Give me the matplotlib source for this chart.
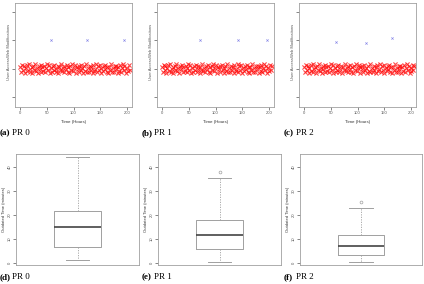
import matplotlib.pyplot as plt
import numpy as np

plt.rcParams['font.family'] = ['Liberation Sans', 'DejaVu Sans']

# event times (hours) for user accesses, one list per PR
access_pr0 = [0.5, 2, 3.5, 6, 7, 9.5, 11, 12.5, 14, 16, 18, 19, 21.5, 23, 25, 26.5, 28, 30, 31,
              33.5, 35, 37, 38.5, 40, 42, 43, 45.5, 47, 49, 50.5, 52, 54, 56, 57, 59.5, 61, 63,
              64, 66.5, 68, 70, 71.5, 73, 75, 76, 78.5, 80, 82, 83, 85.5, 87, 89, 90.5, 92, 94,
              95, 97.5, 99, 101, 102, 104.5, 106, 108, 109.5, 111, 113, 114, 116.5, 118, 120,
              121, 123.5, 125, 127, 128.5, 130, 132, 133, 135.5, 137, 139, 140, 142.5, 144, 146,
              147.5, 149, 151, 152, 154.5, 156, 158, 159, 161.5, 163, 165, 166.5, 168, 170, 171,
              173.5, 175, 177, 178.5, 180, 182, 183, 185.5, 187, 189, 190.5, 192, 194, 195, 197.5,
              199, 201, 203, 205]
access_pr1 = [0, 1.5, 3, 5, 6.5, 8, 10, 11.5, 13, 15, 16.5, 18, 20, 21, 23.5, 25, 27, 28, 30.5,
              32, 34, 35.5, 37, 39, 40, 42.5, 44, 46, 47.5, 49, 51, 52, 54.5, 56, 58, 59, 61.5, 63,
              65, 66.5, 68, 70, 71, 73.5, 75, 77, 78, 80.5, 82, 84, 85.5, 87, 89, 90, 92.5, 94, 96,
              97, 99.5, 101, 103, 104.5, 106, 108, 109, 111.5, 113, 115, 116, 118.5, 120, 122,
              123.5, 125, 127, 128, 130.5, 132, 134, 135, 137.5, 139, 141, 142.5, 144, 146, 147,
              149.5, 151, 153, 154, 156.5, 158, 160, 161.5, 163, 165, 166, 168.5, 170, 172, 173,
              175.5, 177, 179, 180.5, 182, 184, 185, 187.5, 189, 191, 192, 194.5, 196, 198, 199.5,
              201, 203, 205]
access_pr2 = [0.5, 2, 4, 5.5, 7, 9, 10, 12.5, 14, 16, 17, 19.5, 21, 23, 24.5, 26, 28, 29, 31.5,
              33, 35, 36, 38.5, 40, 42, 43.5, 45, 47, 48, 50.5, 52, 54, 55, 57.5, 59, 61, 62.5, 64,
              66, 67, 69.5, 71, 73, 74, 76.5, 78, 80, 81.5, 83, 85, 86, 88.5, 90, 92, 93, 95.5, 97,
              99, 100.5, 102, 104, 105, 107.5, 109, 111, 112, 114.5, 116, 118, 119.5, 121, 123,
              124, 126.5, 128, 130, 131, 133.5, 135, 137, 138.5, 140, 142, 143, 145.5, 147, 149,
              150, 152.5, 154, 156, 157.5, 159, 161, 162, 164.5, 166, 168, 169, 171.5, 173, 175,
              176.5, 178, 180, 181, 183.5, 185, 187, 188, 190.5, 192, 194, 195.5, 197, 199, 200,
              202.5, 204, 206]
# vertical jitter used by the strip chart
jitter = [0.05, -0.12, 0.14, -0.03, 0.09, -0.15, 0.02, 0.12, -0.08, 0.16, -0.1, 0.0, 0.07,
          -0.14, 0.11, -0.05, 0.15, -0.09, 0.03, -0.16, 0.08, -0.02, 0.13, -0.11, 0.06, -0.07,
          0.1, -0.13, 0.01, 0.15, -0.04, 0.12, -0.15, 0.04, -0.1, 0.09, -0.06, 0.14, -0.12, 0.0,
          0.11, -0.16, 0.06, -0.03, 0.16, -0.08, 0.02, -0.13, 0.1, -0.01, 0.13, -0.11, 0.05,
          -0.15, 0.08, -0.06, 0.15, -0.09, 0.03, 0.12, -0.14, 0.07, -0.02, 0.1, -0.12, 0.14,
          -0.05, 0.01, -0.16, 0.09, -0.07, 0.16, -0.1, 0.04, -0.13, 0.11, -0.03, 0.06, -0.15,
          0.13, -0.08, 0.0, 0.15, -0.11, 0.08, -0.04, 0.12, -0.14, 0.02, -0.09, 0.1, -0.01,
          0.14, -0.12, 0.05, -0.16, 0.07, -0.06, 0.16, -0.1, 0.03, -0.13, 0.11, -0.02, 0.09,
          -0.15, 0.06, -0.07, 0.13, -0.11, 0.01, 0.15, -0.04, 0.1, -0.14, 0.04, -0.08, 0.12,
          -0.06, 0.08, -0.13, 0.03, 0.14, -0.1, 0.0, 0.11, -0.15, 0.06, -0.02, 0.13]
# web modification events (time, level)
mods_pr0_t = [58, 125, 195]
mods_pr0_y = [2.0, 2.02, 2.0]
mods_pr1_t = [70, 141, 196]
mods_pr1_y = [2.0, 2.01, 2.02]
mods_pr2_t = [60, 115, 164]
mods_pr2_y = [1.94, 1.91, 2.08]

# boxplot summaries of outdated time (minutes)
box_labels = ["PR 0", "PR 1", "PR 2"]
box_whislo = [1.2, 0.4, 0.4]
box_q1 = [6.7, 5.8, 3.3]
box_med = [15.0, 11.7, 7.1]
box_q3 = [21.7, 17.9, 11.7]
box_whishi = [44.2, 35.4, 22.9]
box_fliers = [[], [38.0], [25.4]]

W, H = 424, 284
fig = plt.figure(figsize=(W / 100, H / 100), dpi=100)
gray = "#a0a0a0"


def px_axes(x0, y0, x1, y1):
    return fig.add_axes([x0 / W, 1 - y1 / H, (x1 - x0) / W, (y1 - y0) / H])


def style(ax):
    for s in ax.spines.values():
        s.set_color(gray)
        s.set_linewidth(0.6)
    ax.tick_params(colors="#555555", length=2, width=0.5, labelsize=3.0, pad=1.2)


def caption(x, y, tag, text):
    fig.text(x / W, 1 - y / H, tag, fontsize=6.5, fontweight="bold",
             family="Liberation Serif", va="center")
    fig.text((x + 12) / W, 1 - y / H, text, fontsize=6.5,
             family="Liberation Serif", va="center")


top = [(15, 3, 132, 107, access_pr0, mods_pr0_t, mods_pr0_y, "(a)", "PR 0"),
       (157, 3, 274, 107, access_pr1, mods_pr1_t, mods_pr1_y, "(b)", "PR 1"),
       (299, 3, 416, 107, access_pr2, mods_pr2_t, mods_pr2_y, "(c)", "PR 2")]
for x0, y0, x1, y1, acc, mt, my, tag, txt in top:
    ax = px_axes(x0, y0, x1, y1)
    n = min(len(acc), len(jitter))
    yv = 1 + np.array(jitter[:n])
    ax.scatter(acc[:n], yv, marker="x", s=9, color="#ff0000", linewidths=0.8, alpha=0.7)
    ax.scatter(mt, my, marker="x", s=2.5, color="#5555dd", linewidths=0.5, alpha=0.7)
    ax.set_xlim(-9.3, 209)
    ax.set_ylim(-0.35, 3.32)
    ax.set_xticks([0, 50, 100, 150, 200])
    ax.set_yticks([0, 1, 2, 3])
    ax.set_yticklabels(["", "User Access", "Web Modifications", ""], rotation=90, va="center",
                       fontsize=2.6)
    ax.set_xlabel("Time (Hours)", fontsize=3.2, labelpad=3, color="#333333")
    style(ax)
    caption(x0 - 15, 133, tag, txt)

bottom = [(16, 154, 139, 265, "(d)"), (158, 154, 281, 265, "(e)"), (300, 154, 422, 265, "(f)")]
for i, (x0, y0, x1, y1, tag) in enumerate(bottom):
    ax = px_axes(x0, y0, x1, y1)
    stats = [dict(whislo=box_whislo[i], q1=box_q1[i], med=box_med[i], q3=box_q3[i],
                  whishi=box_whishi[i], fliers=box_fliers[i])]
    ax.bxp(stats, positions=[1], widths=0.375, showfliers=True,
           boxprops=dict(color=gray, linewidth=0.7),
           medianprops=dict(color="#444444", linewidth=1.2),
           whiskerprops=dict(color=gray, linewidth=0.6, linestyle=(0, (1.5, 1.5))),
           capprops=dict(color=gray, linewidth=0.7),
           flierprops=dict(marker="o", markersize=2, markerfacecolor="none",
                           markeredgecolor=gray, markeredgewidth=0.5),
           capwidths=0.19)
    ax.set_xlim(0.5, 1.5)
    ax.set_ylim(-0.8, 45.4)
    ax.set_xticks([])
    ax.set_yticks([0, 10, 20, 30, 40])
    ax.set_yticklabels(["0", "10", "20", "30", "40"], rotation=90, va="center")
    ax.set_ylabel("Outdated Time (minutes)", fontsize=3.0, labelpad=1, color="#333333")
    style(ax)
    caption(x0 - 16, 277, tag, box_labels[i])

fig.savefig("out.png", dpi=100)
